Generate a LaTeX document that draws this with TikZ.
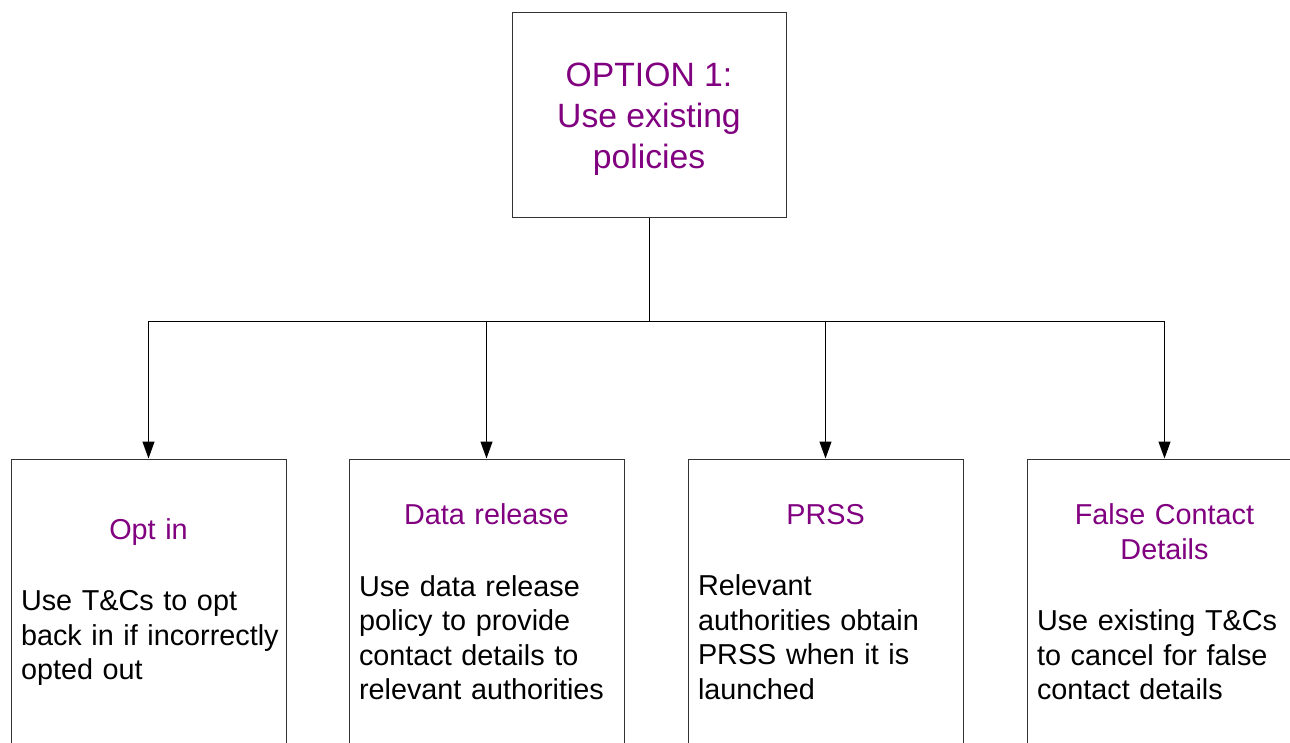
\documentclass[tikz,border=0pt]{standalone}
\usepackage{fontspec}
\setmainfont{Liberation Sans}
\usepackage{tikz}
\usetikzlibrary{arrows.meta,shapes}
\definecolor{optpurple}{RGB}{128,0,128}
\setlength{\parindent}{0pt}
\tikzstyle{top box}=[draw=black!80,line width=1pt,minimum width=274pt,minimum height=205pt,inner sep=0pt,align=center,text=optpurple,font=\fontsize{33.7}{41}\selectfont]
\tikzstyle{option box}=[draw=black!80,line width=1pt,minimum width=275pt,minimum height=286pt,inner xsep=10pt,inner ysep=0pt,text width=255pt,font=\fontsize{28.8}{34.5}\selectfont]
\tikzstyle{edge}=[draw,line width=1pt,-]
\tikzstyle{arrow}=[edge,-{Triangle[length=17pt,width=12pt]}]
\newcommand{\optcontent}[2]{{\centering\color{optpurple}#1\par}\vspace{37pt}{\raggedright #2\par}}

\begin{document}
\begin{tikzpicture}[x=1pt,y=-1pt]
    \useasboundingbox (0,0) rectangle (1290,743);
    \clip (0,0) rectangle (1290,743);
    % The top option
    \node[top box] (opt1) at (649,115.5) {\rule{0pt}{31pt}OPTION 1:\\Use existing\\policies};
    \coordinate (bus) at (649,321);

    % Then the four policies below it
    \foreach \pos/\name/\title/\body in {
        {(148.5,602)/optin/Opt in/Use T\&Cs to opt\\\mbox{back in if incorrectly}\\opted out},
        {(486.5,602)/release/Data release/Use data release\\policy to provide\\contact details to\\relevant authorities},
        {(825.5,602)/prss/PRSS/Relevant\\authorities obtain\\PRSS when it is\\launched},
        {(1164.5,602)/falsecontact/False Contact\\Details/Use existing T\&Cs\\to cancel for false\\contact details}}
        \node[option box] (\name) at \pos {\optcontent{\title}{\body}};

    % Connect the option to its policies
    \path[edge] (opt1.south) -- (bus);
    \foreach \dest in {optin,release,prss,falsecontact}
        \path[arrow] (bus) -| (\dest.north);
\end{tikzpicture}
\end{document}
